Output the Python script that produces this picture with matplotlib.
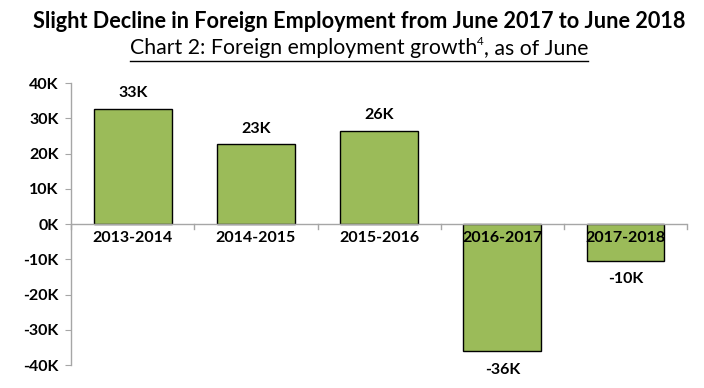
import matplotlib
matplotlib.use("Agg")
import matplotlib.pyplot as plt
from matplotlib.lines import Line2D

# --------------------------
# Données
# --------------------------
periods = ["2013-2014", "2014-2015", "2015-2016", "2016-2017", "2017-2018"]
growth_k = [32.7, 22.6, 26.5, -36.0, -10.4]
value_labels = ["33K", "23K", "26K", "-36K", "-10K"]
y_ticks = [-40, -30, -20, -10, 0, 10, 20, 30, 40]

title = "Slight Decline in Foreign Employment from June 2017 to June 2018"
subtitle_parts = ["Chart 2: Foreign employment growth", "4", ", as of June"]

bar_color = "#9BBB59"
axis_color = "#A6A6A6"
font = "Lato"

plt.rcParams["font.family"] = [font, "DejaVu Sans"]

fig = plt.figure(figsize=(7.04, 3.88), dpi=100)
ax = fig.add_axes([0.101, 0.059, 0.875, 0.727])

x = list(range(len(periods)))
ax.bar(x, growth_k, width=0.63, color=bar_color, edgecolor="black", linewidth=1.0, zorder=2)

ax.set_xlim(-0.5, len(periods) - 0.5)
ax.set_ylim(-40, 40)
ax.set_yticks(y_ticks)
ax.set_yticklabels([f"{v}K" for v in y_ticks], fontsize=11.5, fontweight="bold")
ax.tick_params(axis="y", length=4, color=axis_color, pad=5)
ax.set_xticks([])

for side in ["top", "right", "bottom"]:
    ax.spines[side].set_visible(False)
ax.spines["left"].set_color(axis_color)
ax.spines["left"].set_linewidth(1.0)

# axe horizontal à 0 avec graduations entre catégories
ax.axhline(0, color=axis_color, linewidth=1.0, zorder=3)
for b in [i - 0.5 for i in range(len(periods) + 1)]:
    ax.add_line(Line2D([b, b], [0, -1.4], color=axis_color, linewidth=1.0, zorder=3, clip_on=False))

# étiquettes de catégories juste sous l'axe
for xi, p in zip(x, periods):
    ax.text(xi, -1.9, p, ha="center", va="top", fontsize=11.5, fontweight="bold", zorder=4)

# valeurs
for xi, v, lab in zip(x, growth_k, value_labels):
    if v >= 0:
        ax.text(xi, v + 2.5, lab, ha="center", va="bottom", fontsize=11.5, fontweight="bold")
    else:
        ax.text(xi, v - 3.3, lab, ha="center", va="top", fontsize=11.5, fontweight="bold")

# titres
x_center = 359 / 704
fig.text(x_center, 1 - 21 / 388, title, ha="center", va="center", fontsize=15.6, fontweight="bold")

renderer = fig.canvas.get_renderer()
y_sub = 1 - 48 / 388
t1 = fig.text(0, y_sub, subtitle_parts[0], ha="left", va="center", fontsize=15.3)
t2 = fig.text(0, y_sub + 0.016, subtitle_parts[1], ha="left", va="center", fontsize=8.5)
t3 = fig.text(0, y_sub, subtitle_parts[2], ha="left", va="center", fontsize=15.3)
widths = [t.get_window_extent(renderer).width / fig.bbox.width for t in (t1, t2, t3)]
start = x_center - sum(widths) / 2
pos = start
for t, w in zip((t1, t2, t3), widths):
    t.set_x(pos)
    pos += w
y_line = 1 - 61 / 388
fig.add_artist(Line2D([start, pos], [y_line, y_line], color="black", linewidth=1.0,
                      transform=fig.transFigure))

fig.savefig("out.png", dpi=100)
